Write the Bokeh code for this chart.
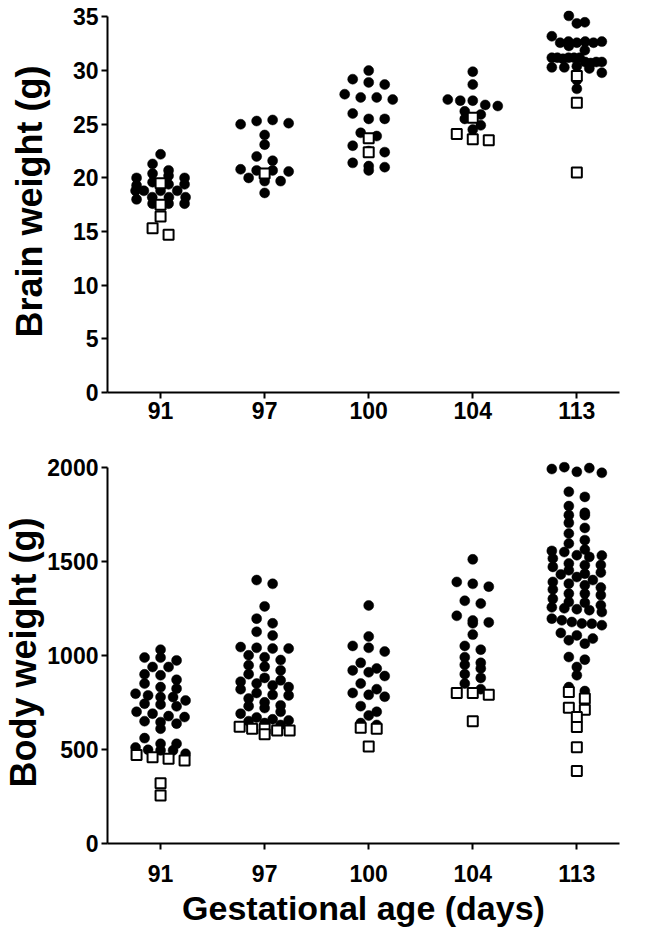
from bokeh.plotting import figure
from bokeh.layouts import column
from bokeh.models import FixedTicker, Range1d, ColumnDataSource
from bokeh.embed import file_html
from bokeh.resources import INLINE

# ---------------- data ----------------
ages = ["91", "97", "100", "104", "113"]

# Brain weight (g) - filled circles
brain_fill_91 = [22.2, 21.3, 20.0, 19.3, 18.8, 18.0, 20.4, 19.6, 18.8, 18.2, 17.6,
                 20.2, 19.4, 18.8, 18.2, 17.6, 20.7, 20.0, 19.4, 18.8, 18.2, 17.6]
brain_fill_97 = [25.0, 25.3, 25.4, 25.1, 24.0, 23.1, 22.0, 21.6, 20.8, 20.7,
                 20.7, 20.6, 20.0, 19.7, 19.7, 18.6]
brain_fill_100 = [30.0, 29.2, 28.9, 28.7, 27.8, 27.5, 27.5, 27.3, 26.0, 25.5,
                  25.5, 24.2, 23.9, 23.0, 22.5, 22.4, 21.4, 21.1, 21.0, 20.7]
brain_fill_104 = [29.9, 28.7, 27.3, 27.2, 27.2, 26.8, 26.7, 26.2, 25.9, 25.5, 24.9, 24.5]
brain_fill_113 = [35.1, 34.5, 34.4, 33.2, 32.6, 32.7, 32.6, 32.7, 32.6, 32.7, 32.3,
                  31.9, 31.2, 31.2, 31.1, 31.2, 31.2, 31.2, 30.8, 30.7, 30.8, 30.8,
                  30.3, 30.3, 30.4, 30.2, 29.8, 29.1, 28.3]
# Brain weight (g) - open squares
brain_open_91 = [19.5, 17.5, 16.4, 15.3, 14.7]
brain_open_97 = [20.4]
brain_open_100 = [23.7, 22.4]
brain_open_104 = [25.6, 24.1, 23.6, 23.5]
brain_open_113 = [29.5, 27.0, 20.5]

# Body weight (g) - filled circles
body_fill_91 = [1030, 988, 988, 973, 938, 938, 899, 894, 870, 850, 831, 823, 796,
                787, 778, 778, 760, 743, 739, 729, 700, 690, 677, 672, 650, 645,
                637, 610, 560, 530, 530, 510, 498, 495, 495, 477]
body_fill_97 = [1400, 1380, 1260, 1195, 1170, 1125, 1105, 1044, 1040, 1036, 1036,
                1000, 990, 975, 947, 940, 920, 900, 880, 867, 860, 850, 840, 831,
                820, 800, 790, 787, 770, 750, 734, 730, 720, 700, 690, 670, 660,
                654, 650, 640, 630]
body_fill_100 = [1265, 1100, 1050, 1040, 1020, 960, 930, 920, 910, 890, 850, 820,
                 800, 790, 780, 730, 700, 680, 640, 630]
body_fill_104 = [1510, 1390, 1380, 1365, 1290, 1275, 1210, 1185, 1175, 1170, 1110,
                 1050, 1030, 990, 960, 950, 930, 900, 880, 850, 820]
body_fill_113 = [1990, 2000, 1975, 1995, 1970, 1869, 1842, 1793, 1757, 1745, 1745,
                 1704, 1677, 1647, 1612, 1594, 1562, 1555, 1549, 1532, 1523, 1515,
                 1530, 1488, 1479, 1470, 1480, 1452, 1434, 1430, 1440, 1416, 1400,
                 1390, 1381, 1372, 1360, 1350, 1328, 1328, 1320, 1300, 1283, 1280,
                 1266, 1255, 1250, 1245, 1240, 1230, 1195, 1186, 1177, 1169, 1168,
                 1160, 1119, 1106, 1089, 1080, 1062, 991, 977, 938, 894, 831, 810]
# Body weight (g) - open squares
body_open_91 = [470, 459, 450, 441, 320, 255]
body_open_97 = [620, 610, 610, 600, 600, 580]
body_open_100 = [615, 610, 515]
body_open_104 = [800, 800, 790, 650]
body_open_113 = [805, 770, 722, 711, 672, 619, 512, 385]

brain_fill = [brain_fill_91, brain_fill_97, brain_fill_100, brain_fill_104, brain_fill_113]
brain_open = [brain_open_91, brain_open_97, brain_open_100, brain_open_104, brain_open_113]
body_fill = [body_fill_91, body_fill_97, body_fill_100, body_fill_104, body_fill_113]
body_open = [body_open_91, body_open_97, body_open_100, body_open_104, body_open_113]

# ---------------- layout helpers ----------------
FONT = "Liberation Sans"
FRAME_W = 512
X_START, X_END = -0.51, 4.41
PPU_X = FRAME_W / (X_END - X_START)


def swarm(values, ppu_y, bin_px=7.0, col_px=16.0, max_px=50.0):
    """Prism-like column scatter: bin by value, spread each bin horizontally (pixels)."""
    order = sorted(range(len(values)), key=lambda i: -values[i])
    bins, cur, start = [], [], None
    for i in order:
        if start is None or (start - values[i]) * ppu_y > bin_px:
            if cur:
                bins.append(cur)
            cur, start = [i], values[i]
        else:
            cur.append(i)
    if cur:
        bins.append(cur)
    offs = [0.0] * len(values)
    for b in bins:
        b = sorted(b)
        n = len(b)
        step = col_px if n < 2 else min(col_px, max_px / (n - 1))
        for k, i in enumerate(b):
            offs[i] = (k - (n - 1) / 2.0) * step
    return offs


def build_source(groups, ppu_y):
    xs, ys = [], []
    for gi, vals in enumerate(groups):
        offs = swarm(vals, ppu_y)
        for v, o in zip(vals, offs):
            xs.append(gi + o / PPU_X)
            ys.append(v)
    return ColumnDataSource(dict(x=xs, y=ys))


def style(p, ylabel, ystep, ytop, xlab_standoff, ylab_standoff):
    p.grid.visible = False
    p.outline_line_color = None
    p.background_fill_color = "white"
    p.border_fill_color = "white"
    for ax in (p.xaxis[0], p.yaxis[0]):
        ax.axis_line_width = 2
        ax.axis_line_color = "black"
        ax.major_tick_line_width = 2
        ax.major_tick_line_color = "black"
        ax.major_tick_out = 6
        ax.major_tick_in = 0
        ax.minor_tick_out = 0
        ax.minor_tick_in = 0
        ax.major_label_text_font = FONT
        ax.major_label_text_font_style = "bold"
        ax.major_label_text_font_size = "23px"
        ax.major_label_text_color = "black"
        ax.axis_label_text_font = FONT
        ax.axis_label_text_font_style = "bold"
        ax.axis_label_text_color = "black"
    p.xaxis.ticker = FixedTicker(ticks=list(range(len(ages))))
    p.xaxis.major_label_overrides = {i: a for i, a in enumerate(ages)}
    p.xaxis.major_label_standoff = xlab_standoff
    p.yaxis.ticker = FixedTicker(ticks=list(range(0, ytop + 1, ystep)))
    p.yaxis.bounds = (0, ytop)
    p.yaxis.major_label_standoff = 3
    p.yaxis.axis_label = ylabel
    p.yaxis.axis_label_text_font_size = "36px"
    p.yaxis.axis_label_standoff = ylab_standoff


def add_points(p, src_fill, src_open):
    p.scatter("x", "y", source=src_fill, marker="circle", size=10,
              fill_color="black", line_color="black", line_width=0.5)
    p.scatter("x", "y", source=src_open, marker="square", size=10,
              fill_color="white", line_color="black", line_width=2)


# ---------------- top: brain weight ----------------
BRAIN_TOP = 35
brain_y_end = 35.6
fh1 = 382
ppu1 = fh1 / brain_y_end
p1 = figure(frame_width=FRAME_W, frame_height=fh1,
            x_range=Range1d(X_START, X_END), y_range=Range1d(0, brain_y_end),
            output_backend="svg", toolbar_location=None,
            min_border_left=100, min_border_right=9, min_border_top=10, min_border_bottom=45)
style(p1, "Brain weight (g)", 5, BRAIN_TOP, 3, 20)
add_points(p1, build_source(brain_fill, ppu1), build_source(brain_open, ppu1))

# ---------------- bottom: body weight ----------------
BODY_TOP = 2000
body_y_end = 2030
fh2 = 382
ppu2 = fh2 / body_y_end
p2 = figure(frame_width=FRAME_W, frame_height=fh2,
            x_range=Range1d(X_START, X_END), y_range=Range1d(0, body_y_end),
            output_backend="svg", toolbar_location=None,
            min_border_left=100, min_border_right=9, min_border_top=24, min_border_bottom=84)
style(p2, "Body weight (g)", 500, BODY_TOP, 15, 0)
p2.xaxis.axis_label = "Gestational age (days)"
p2.xaxis.axis_label_text_font_size = "34px"
p2.xaxis.axis_label_standoff = 4
add_points(p2, build_source(body_fill, ppu2), build_source(body_open, ppu2))

layout = column(p1, p2)
open("out.html", "w").write(file_html(layout, INLINE))
